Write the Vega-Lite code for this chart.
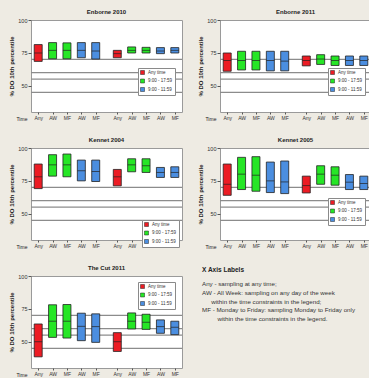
{
  "$schema": "https://vega.github.io/schema/vega-lite/v6.json",
  "padding": {"left": 8, "top": 8, "right": 0, "bottom": 0},
  "datasets": {
    "standards": [{"level": 70}, {"level": 60}, {"level": 55}, {"level": 45}],
    "boxes": [
      {"panel": "Enborne 2010", "key": "1-Any", "timing": "Any time", "low": 68.5, "median": 74.9, "high": 81.3},
      {"panel": "Enborne 2010", "key": "1-AW-d", "timing": "9:00 - 17:59", "low": 70.5, "median": 76.9, "high": 82.8},
      {"panel": "Enborne 2010", "key": "1-MF-d", "timing": "9:00 - 17:59", "low": 70.5, "median": 76.9, "high": 82.6},
      {"panel": "Enborne 2010", "key": "1-AW-m", "timing": "9:00 - 11:59", "low": 71.3, "median": 76.9, "high": 82.8},
      {"panel": "Enborne 2010", "key": "1-MF-m", "timing": "9:00 - 11:59", "low": 70.3, "median": 76.4, "high": 82.8},
      {"panel": "Enborne 2010", "key": "2-Any", "timing": "Any time", "low": 71.3, "median": 74.4, "high": 76.9},
      {"panel": "Enborne 2010", "key": "2-AW-d", "timing": "9:00 - 17:59", "low": 74.9, "median": 76.9, "high": 79.5},
      {"panel": "Enborne 2010", "key": "2-MF-d", "timing": "9:00 - 17:59", "low": 74.9, "median": 76.9, "high": 79.2},
      {"panel": "Enborne 2010", "key": "2-AW-m", "timing": "9:00 - 11:59", "low": 74.4, "median": 76.4, "high": 79.0},
      {"panel": "Enborne 2010", "key": "2-MF-m", "timing": "9:00 - 11:59", "low": 74.9, "median": 76.9, "high": 79.0},

      {"panel": "Enborne 2011", "key": "1-Any", "timing": "Any time", "low": 61.0, "median": 69.2, "high": 74.9},
      {"panel": "Enborne 2011", "key": "1-AW-d", "timing": "9:00 - 17:59", "low": 62.0, "median": 69.2, "high": 76.2},
      {"panel": "Enborne 2011", "key": "1-MF-d", "timing": "9:00 - 17:59", "low": 62.0, "median": 69.2, "high": 76.2},
      {"panel": "Enborne 2011", "key": "1-AW-m", "timing": "9:00 - 11:59", "low": 61.3, "median": 69.2, "high": 76.2},
      {"panel": "Enborne 2011", "key": "1-MF-m", "timing": "9:00 - 11:59", "low": 61.3, "median": 68.7, "high": 76.2},
      {"panel": "Enborne 2011", "key": "2-Any", "timing": "Any time", "low": 65.1, "median": 69.2, "high": 72.6},
      {"panel": "Enborne 2011", "key": "2-AW-d", "timing": "9:00 - 17:59", "low": 66.2, "median": 70.3, "high": 73.6},
      {"panel": "Enborne 2011", "key": "2-MF-d", "timing": "9:00 - 17:59", "low": 65.4, "median": 69.2, "high": 72.6},
      {"panel": "Enborne 2011", "key": "2-AW-m", "timing": "9:00 - 11:59", "low": 65.4, "median": 69.2, "high": 72.6},
      {"panel": "Enborne 2011", "key": "2-MF-m", "timing": "9:00 - 11:59", "low": 65.4, "median": 69.2, "high": 72.6},

      {"panel": "Kennet 2004", "key": "1-Any", "timing": "Any time", "low": 69.1, "median": 78.1, "high": 87.8},
      {"panel": "Kennet 2004", "key": "1-AW-d", "timing": "9:00 - 17:59", "low": 78.6, "median": 87.2, "high": 94.9},
      {"panel": "Kennet 2004", "key": "1-MF-d", "timing": "9:00 - 17:59", "low": 78.1, "median": 87.2, "high": 95.4},
      {"panel": "Kennet 2004", "key": "1-AW-m", "timing": "9:00 - 11:59", "low": 75.0, "median": 82.7, "high": 90.8},
      {"panel": "Kennet 2004", "key": "1-MF-m", "timing": "9:00 - 11:59", "low": 74.5, "median": 82.1, "high": 90.8},
      {"panel": "Kennet 2004", "key": "2-Any", "timing": "Any time", "low": 71.2, "median": 78.1, "high": 83.7},
      {"panel": "Kennet 2004", "key": "2-AW-d", "timing": "9:00 - 17:59", "low": 81.9, "median": 87.2, "high": 91.8},
      {"panel": "Kennet 2004", "key": "2-MF-d", "timing": "9:00 - 17:59", "low": 81.4, "median": 86.5, "high": 91.8},
      {"panel": "Kennet 2004", "key": "2-AW-m", "timing": "9:00 - 11:59", "low": 77.6, "median": 81.4, "high": 85.2},
      {"panel": "Kennet 2004", "key": "2-MF-m", "timing": "9:00 - 11:59", "low": 77.6, "median": 81.4, "high": 85.7},

      {"panel": "Kennet 2005", "key": "1-Any", "timing": "Any time", "low": 64.0, "median": 72.4, "high": 87.8},
      {"panel": "Kennet 2005", "key": "1-AW-d", "timing": "9:00 - 17:59", "low": 68.4, "median": 80.1, "high": 92.9},
      {"panel": "Kennet 2005", "key": "1-MF-d", "timing": "9:00 - 17:59", "low": 67.1, "median": 79.3, "high": 93.4},
      {"panel": "Kennet 2005", "key": "1-AW-m", "timing": "9:00 - 11:59", "low": 66.1, "median": 75.0, "high": 89.3},
      {"panel": "Kennet 2005", "key": "1-MF-m", "timing": "9:00 - 11:59", "low": 65.3, "median": 74.2, "high": 90.1},
      {"panel": "Kennet 2005", "key": "2-Any", "timing": "Any time", "low": 65.8, "median": 71.4, "high": 78.6},
      {"panel": "Kennet 2005", "key": "2-AW-d", "timing": "9:00 - 17:59", "low": 72.4, "median": 80.1, "high": 86.5},
      {"panel": "Kennet 2005", "key": "2-MF-d", "timing": "9:00 - 17:59", "low": 71.7, "median": 79.3, "high": 85.7},
      {"panel": "Kennet 2005", "key": "2-AW-m", "timing": "9:00 - 11:59", "low": 68.4, "median": 74.0, "high": 79.8},
      {"panel": "Kennet 2005", "key": "2-MF-m", "timing": "9:00 - 11:59", "low": 68.4, "median": 73.0, "high": 78.6},

      {"panel": "The Cut 2011", "key": "1-Any", "timing": "Any time", "low": 38.5, "median": 50.0, "high": 63.5},
      {"panel": "The Cut 2011", "key": "1-AW-d", "timing": "9:00 - 17:59", "low": 53.3, "median": 65.6, "high": 78.1},
      {"panel": "The Cut 2011", "key": "1-MF-d", "timing": "9:00 - 17:59", "low": 52.8, "median": 65.6, "high": 78.3},
      {"panel": "The Cut 2011", "key": "1-AW-m", "timing": "9:00 - 11:59", "low": 50.8, "median": 61.7, "high": 71.7},
      {"panel": "The Cut 2011", "key": "1-MF-m", "timing": "9:00 - 11:59", "low": 49.5, "median": 61.5, "high": 71.2},
      {"panel": "The Cut 2011", "key": "2-Any", "timing": "Any time", "low": 42.6, "median": 50.0, "high": 56.9},
      {"panel": "The Cut 2011", "key": "2-AW-d", "timing": "9:00 - 17:59", "low": 59.7, "median": 65.6, "high": 71.9},
      {"panel": "The Cut 2011", "key": "2-MF-d", "timing": "9:00 - 17:59", "low": 59.4, "median": 64.8, "high": 70.9},
      {"panel": "The Cut 2011", "key": "2-AW-m", "timing": "9:00 - 11:59", "low": 56.4, "median": 61.5, "high": 66.6},
      {"panel": "The Cut 2011", "key": "2-MF-m", "timing": "9:00 - 11:59", "low": 55.4, "median": 61.0, "high": 65.6}
    ],
    "notes": [
      {"line": 1, "text": "Any - sampling at any time;"},
      {"line": 2, "text": "AW - All Week: sampling on any day of the week"},
      {"line": 3, "text": "\u200b\u2002\u2002\u2002within the time constraints in the legend;"},
      {"line": 4, "text": "MF - Monday to Friday: sampling Monday to Friday only"},
      {"line": 5, "text": "\u200b\u2002\u2002\u2002\u2002\u2002within the time constraints in the legend."}
    ]
  },
  "vconcat": [
    {
      "concat": [
        {
          "title": "Enborne 2010", "width": 151, "height": 92,
          "layer": [
            {"data": {"name": "standards"}, "mark": {"type": "rule", "color": "#8c8c8c", "strokeWidth": 1.2},
             "encoding": {"y": {"field": "level", "type": "quantitative", "title": "% DO 10th percentile", "scale": {"domain": [30, 100], "nice": false, "zero": false}, "axis": {"values": [50, 75, 100]}}}},
            {"data": {"name": "boxes"}, "transform": [{"filter": "datum.panel == 'Enborne 2010'"}],
             "mark": {"type": "bar", "width": 8, "stroke": "#222", "strokeWidth": 0.8},
             "encoding": {
               "x": {"field": "key", "type": "ordinal", "title": "Time",
                     "scale": {"type": "point", "padding": 1.5, "domain": ["1-Any","s1","1-AW-d","s2","1-MF-d","s3","1-AW-m","s4","1-MF-m","s5","s6","2-Any","s7","2-AW-d","s8","2-MF-d","s9","2-AW-m","s10","2-MF-m"]},
                     "axis": {"values": ["1-Any","1-AW-d","1-MF-d","1-AW-m","1-MF-m","2-Any","2-AW-d","2-MF-d","2-AW-m","2-MF-m"], "labelExpr": "split(datum.value, '-')[1]"}},
               "y": {"field": "low", "type": "quantitative", "title": "% DO 10th percentile"},
               "y2": {"field": "high"},
               "color": {"field": "timing", "type": "nominal",
                         "scale": {"domain": ["Any time", "9:00 - 17:59", "9:00 - 11:59"], "range": ["#ec1c24", "#26e626", "#4b8ee0"]},
                         "legend": {"title": null, "orient": "none", "legendX": 107, "legendY": 48}}
             }},
            {"data": {"name": "boxes"}, "transform": [{"filter": "datum.panel == 'Enborne 2010'"}],
             "mark": {"type": "tick", "color": "#222", "size": 8, "thickness": 1},
             "encoding": {"x": {"field": "key", "type": "ordinal", "title": "Time"}, "y": {"field": "median", "type": "quantitative", "title": "% DO 10th percentile"}}}
          ]
        },
        {
          "title": "Enborne 2011", "width": 151, "height": 92,
          "layer": [
            {"data": {"name": "standards"}, "mark": {"type": "rule", "color": "#8c8c8c", "strokeWidth": 1.2},
             "encoding": {"y": {"field": "level", "type": "quantitative", "title": "% DO 10th percentile", "scale": {"domain": [30, 100], "nice": false, "zero": false}, "axis": {"values": [50, 75, 100]}}}},
            {"data": {"name": "boxes"}, "transform": [{"filter": "datum.panel == 'Enborne 2011'"}],
             "mark": {"type": "bar", "width": 8, "stroke": "#222", "strokeWidth": 0.8},
             "encoding": {
               "x": {"field": "key", "type": "ordinal", "title": "Time",
                     "scale": {"type": "point", "padding": 1.5, "domain": ["1-Any","s1","1-AW-d","s2","1-MF-d","s3","1-AW-m","s4","1-MF-m","s5","s6","2-Any","s7","2-AW-d","s8","2-MF-d","s9","2-AW-m","s10","2-MF-m"]},
                     "axis": {"values": ["1-Any","1-AW-d","1-MF-d","1-AW-m","1-MF-m","2-Any","2-AW-d","2-MF-d","2-AW-m","2-MF-m"], "labelExpr": "split(datum.value, '-')[1]"}},
               "y": {"field": "low", "type": "quantitative", "title": "% DO 10th percentile"},
               "y2": {"field": "high"},
               "color": {"field": "timing", "type": "nominal",
                         "scale": {"domain": ["Any time", "9:00 - 17:59", "9:00 - 11:59"], "range": ["#ec1c24", "#26e626", "#4b8ee0"]},
                         "legend": {"title": null, "orient": "none", "legendX": 108, "legendY": 48}}
             }},
            {"data": {"name": "boxes"}, "transform": [{"filter": "datum.panel == 'Enborne 2011'"}],
             "mark": {"type": "tick", "color": "#222", "size": 8, "thickness": 1},
             "encoding": {"x": {"field": "key", "type": "ordinal", "title": "Time"}, "y": {"field": "median", "type": "quantitative", "title": "% DO 10th percentile"}}}
          ]
        },
        {
          "title": "Kennet 2004", "width": 151, "height": 92,
          "layer": [
            {"data": {"name": "standards"}, "mark": {"type": "rule", "color": "#8c8c8c", "strokeWidth": 1.2},
             "encoding": {"y": {"field": "level", "type": "quantitative", "title": "% DO 10th percentile", "scale": {"domain": [30, 100], "nice": false, "zero": false}, "axis": {"values": [50, 75, 100]}}}},
            {"data": {"name": "boxes"}, "transform": [{"filter": "datum.panel == 'Kennet 2004'"}],
             "mark": {"type": "bar", "width": 8, "stroke": "#222", "strokeWidth": 0.8},
             "encoding": {
               "x": {"field": "key", "type": "ordinal", "title": "Time",
                     "scale": {"type": "point", "padding": 1.5, "domain": ["1-Any","s1","1-AW-d","s2","1-MF-d","s3","1-AW-m","s4","1-MF-m","s5","s6","2-Any","s7","2-AW-d","s8","2-MF-d","s9","2-AW-m","s10","2-MF-m"]},
                     "axis": {"values": ["1-Any","1-AW-d","1-MF-d","1-AW-m","1-MF-m","2-Any","2-AW-d","2-MF-d","2-AW-m","2-MF-m"], "labelExpr": "split(datum.value, '-')[1]"}},
               "y": {"field": "low", "type": "quantitative", "title": "% DO 10th percentile"},
               "y2": {"field": "high"},
               "color": {"field": "timing", "type": "nominal",
                         "scale": {"domain": ["Any time", "9:00 - 17:59", "9:00 - 11:59"], "range": ["#ec1c24", "#26e626", "#4b8ee0"]},
                         "legend": {"title": null, "orient": "none", "legendX": 111, "legendY": 72}}
             }},
            {"data": {"name": "boxes"}, "transform": [{"filter": "datum.panel == 'Kennet 2004'"}],
             "mark": {"type": "tick", "color": "#222", "size": 8, "thickness": 1},
             "encoding": {"x": {"field": "key", "type": "ordinal", "title": "Time"}, "y": {"field": "median", "type": "quantitative", "title": "% DO 10th percentile"}}}
          ]
        },
        {
          "title": "Kennet 2005", "width": 151, "height": 92,
          "layer": [
            {"data": {"name": "standards"}, "mark": {"type": "rule", "color": "#8c8c8c", "strokeWidth": 1.2},
             "encoding": {"y": {"field": "level", "type": "quantitative", "title": "% DO 10th percentile", "scale": {"domain": [30, 100], "nice": false, "zero": false}, "axis": {"values": [50, 75, 100]}}}},
            {"data": {"name": "boxes"}, "transform": [{"filter": "datum.panel == 'Kennet 2005'"}],
             "mark": {"type": "bar", "width": 8, "stroke": "#222", "strokeWidth": 0.8},
             "encoding": {
               "x": {"field": "key", "type": "ordinal", "title": "Time",
                     "scale": {"type": "point", "padding": 1.5, "domain": ["1-Any","s1","1-AW-d","s2","1-MF-d","s3","1-AW-m","s4","1-MF-m","s5","s6","2-Any","s7","2-AW-d","s8","2-MF-d","s9","2-AW-m","s10","2-MF-m"]},
                     "axis": {"values": ["1-Any","1-AW-d","1-MF-d","1-AW-m","1-MF-m","2-Any","2-AW-d","2-MF-d","2-AW-m","2-MF-m"], "labelExpr": "split(datum.value, '-')[1]"}},
               "y": {"field": "low", "type": "quantitative", "title": "% DO 10th percentile"},
               "y2": {"field": "high"},
               "color": {"field": "timing", "type": "nominal",
                         "scale": {"domain": ["Any time", "9:00 - 17:59", "9:00 - 11:59"], "range": ["#ec1c24", "#26e626", "#4b8ee0"]},
                         "legend": {"title": null, "orient": "none", "legendX": 108, "legendY": 50}}
             }},
            {"data": {"name": "boxes"}, "transform": [{"filter": "datum.panel == 'Kennet 2005'"}],
             "mark": {"type": "tick", "color": "#222", "size": 8, "thickness": 1},
             "encoding": {"x": {"field": "key", "type": "ordinal", "title": "Time"}, "y": {"field": "median", "type": "quantitative", "title": "% DO 10th percentile"}}}
          ]
        }
      ],
      "columns": 2,
      "spacing": {"row": 14, "column": 13},
      "resolve": {"scale": {"color": "independent"}}
    },
    {
      "hconcat": [
        {
          "title": "The Cut 2011", "width": 151, "height": 92,
          "layer": [
            {"data": {"name": "standards"}, "mark": {"type": "rule", "color": "#8c8c8c", "strokeWidth": 1.2},
             "encoding": {"y": {"field": "level", "type": "quantitative", "title": "% DO 10th percentile", "scale": {"domain": [30, 100], "nice": false, "zero": false}, "axis": {"values": [50, 75, 100]}}}},
            {"data": {"name": "boxes"}, "transform": [{"filter": "datum.panel == 'The Cut 2011'"}],
             "mark": {"type": "bar", "width": 8, "stroke": "#222", "strokeWidth": 0.8},
             "encoding": {
               "x": {"field": "key", "type": "ordinal", "title": "Time",
                     "scale": {"type": "point", "padding": 1.5, "domain": ["1-Any","s1","1-AW-d","s2","1-MF-d","s3","1-AW-m","s4","1-MF-m","s5","s6","2-Any","s7","2-AW-d","s8","2-MF-d","s9","2-AW-m","s10","2-MF-m"]},
                     "axis": {"values": ["1-Any","1-AW-d","1-MF-d","1-AW-m","1-MF-m","2-Any","2-AW-d","2-MF-d","2-AW-m","2-MF-m"], "labelExpr": "split(datum.value, '-')[1]"}},
               "y": {"field": "low", "type": "quantitative", "title": "% DO 10th percentile"},
               "y2": {"field": "high"},
               "color": {"field": "timing", "type": "nominal",
                         "scale": {"domain": ["Any time", "9:00 - 17:59", "9:00 - 11:59"], "range": ["#ec1c24", "#26e626", "#4b8ee0"]},
                         "legend": {"title": null, "orient": "none", "legendX": 107, "legendY": 6}}
             }},
            {"data": {"name": "boxes"}, "transform": [{"filter": "datum.panel == 'The Cut 2011'"}],
             "mark": {"type": "tick", "color": "#222", "size": 8, "thickness": 1},
             "encoding": {"x": {"field": "key", "type": "ordinal", "title": "Time"}, "y": {"field": "median", "type": "quantitative", "title": "% DO 10th percentile"}}}
          ]
        },
        {
          "title": {"text": "X Axis Labels", "anchor": "start", "dx": 5, "fontSize": 6.5},
          "width": 151, "height": 92,
          "view": {"stroke": null, "fill": null},
          "data": {"name": "notes"},
          "mark": {"type": "text", "align": "left", "baseline": "middle", "fontSize": 6.2, "color": "#333", "dx": 5},
          "encoding": {
            "x": {"datum": 0, "type": "quantitative", "scale": {"domain": [0, 1]}, "axis": null},
            "y": {"field": "line", "type": "ordinal", "scale": {"type": "point", "range": [4, 47]}, "axis": null},
            "text": {"field": "text"}
          }
        }
      ],
      "spacing": 13,
      "resolve": {"scale": {"color": "independent"}}
    }
  ],
  "spacing": 14,
  "resolve": {"scale": {"color": "independent"}},
  "config": {
    "background": "#eeebe3",
    "font": "Liberation Sans",
    "view": {"stroke": "#9a9a9a", "strokeWidth": 1, "fill": "white"},
    "title": {"fontSize": 6, "fontWeight": "bold", "color": "#222", "offset": 3, "anchor": "middle"},
    "axis": {"labelColor": "#333", "tickColor": "#555", "titleColor": "#222", "grid": false, "domain": false},
    "axisY": {"tickSize": 3, "labelFontSize": 5.5, "labelPadding": 1, "titleFontSize": 6, "titleFontWeight": "bold", "titlePadding": 3},
    "axisX": {"tickSize": 2, "labelFontSize": 5, "labelPadding": 1, "labelAngle": 0, "titleFontSize": 5, "titleFontWeight": "normal", "titleX": -15, "titleY": 6, "titleAlign": "left", "titleBaseline": "middle"},
    "legend": {"fillColor": "white", "strokeColor": "#8a8a8a", "padding": 2, "symbolType": "square", "symbolSize": 16, "symbolStrokeColor": "#222", "symbolStrokeWidth": 0.5, "labelFontSize": 4.5, "labelOffset": 3, "rowPadding": 1.5, "labelColor": "#333"}
  }
}
